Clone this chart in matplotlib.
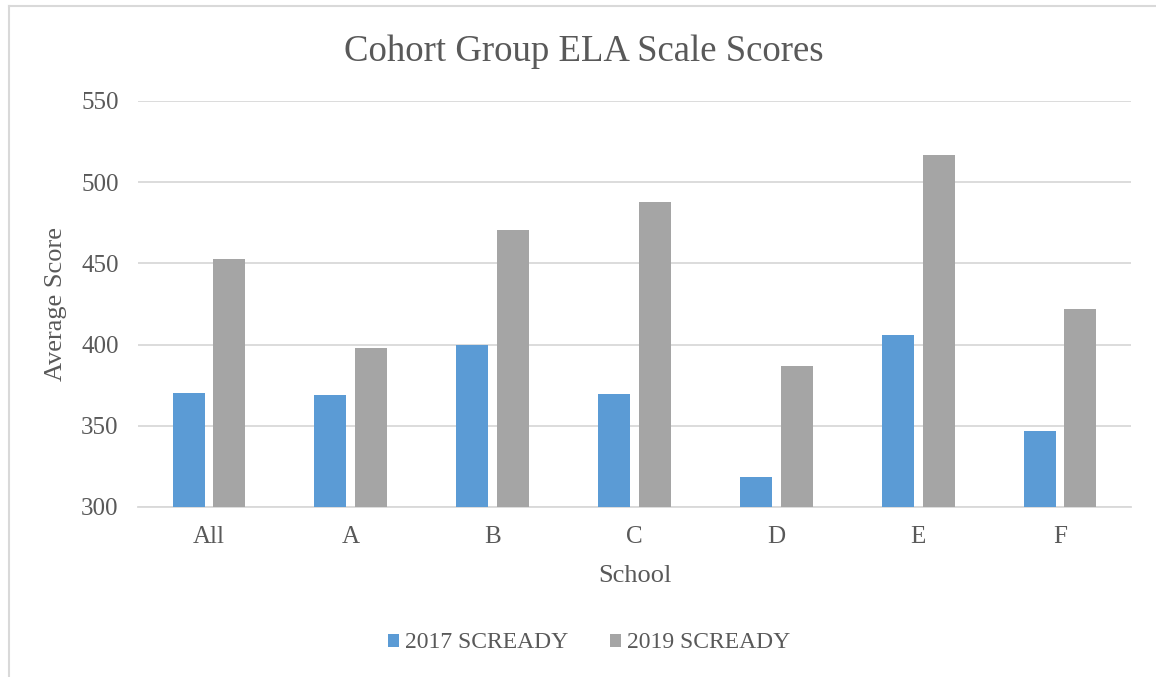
import matplotlib
matplotlib.use("Agg")
import matplotlib.pyplot as plt
from matplotlib.lines import Line2D
import numpy as np

categories = ["All", "A", "B", "C", "D", "E", "F"]
scores_2017 = [370, 369, 400, 369.5, 318.5, 406, 346.5]
scores_2019 = [452.5, 398, 470.5, 487.5, 387, 517, 422]
series_names = ["2017 SCREADY", "2019 SCREADY"]
y_ticks = [300, 350, 400, 450, 500, 550]

BLUE = "#5B9BD5"
GRAY = "#A5A5A5"
TXT = "#595959"
GRID = "#D9D9D9"

plt.rcParams['font.family'] = ['Liberation Serif', 'DejaVu Serif']

fig = plt.figure(figsize=(11.56, 6.77), dpi=100)
W, H = 1156, 677
ax = fig.add_axes([138 / W, 1 - 507 / H, (1131 - 138) / W, (507 - 101) / H])

x = np.arange(len(categories))
bw = 0.225
off = 0.1435
ax.bar(x - off, scores_2017, width=bw, color=BLUE, label=series_names[0], zorder=3)
ax.bar(x + off, scores_2019, width=bw, color=GRAY, label=series_names[1], zorder=3)

ax.set_xlim(-0.5, len(categories) - 0.5)
ax.set_ylim(300, 550)
ax.set_yticks(y_ticks)
ax.set_yticklabels([str(t) for t in y_ticks])
ax.set_xticks(x)
ax.set_xticklabels(categories)
ax.yaxis.grid(True, color=GRID, linewidth=1.3, zorder=0)
ax.set_axisbelow(True)
for s in ["top", "right", "left"]:
    ax.spines[s].set_visible(False)
ax.spines["bottom"].set_color(GRID)
ax.spines["bottom"].set_linewidth(1.3)
ax.tick_params(axis="both", length=0, colors=TXT, labelsize=18)
ax.tick_params(axis="y", pad=14)
ax.tick_params(axis="x", pad=14)

ax.set_xlabel("School", fontsize=19, color=TXT, labelpad=12)
ax.set_ylabel("Average Score", fontsize=19, color=TXT, labelpad=10)

fig.text(584 / W, 1 - 52 / H, "Cohort Group ELA Scale Scores", ha="center", va="center",
         fontsize=26.5, color=TXT)

leg = fig.legend(loc="center", bbox_to_anchor=(589 / W, 1 - 643 / H), ncol=2, frameon=False,
                 fontsize=17, labelcolor=TXT, handlelength=0.47, handleheight=0.47,
                 handletextpad=0.25, columnspacing=1.75)

# outer border (top and left visible)
fig.add_artist(Line2D([9 / W, 1.0], [1 - 6 / H, 1 - 6 / H], color=GRID, linewidth=1.5,
                      transform=fig.transFigure))
fig.add_artist(Line2D([9 / W, 9 / W], [0, 1 - 6 / H], color=GRID, linewidth=1.5,
                      transform=fig.transFigure))

fig.savefig("out.png", dpi=100, facecolor="white")
